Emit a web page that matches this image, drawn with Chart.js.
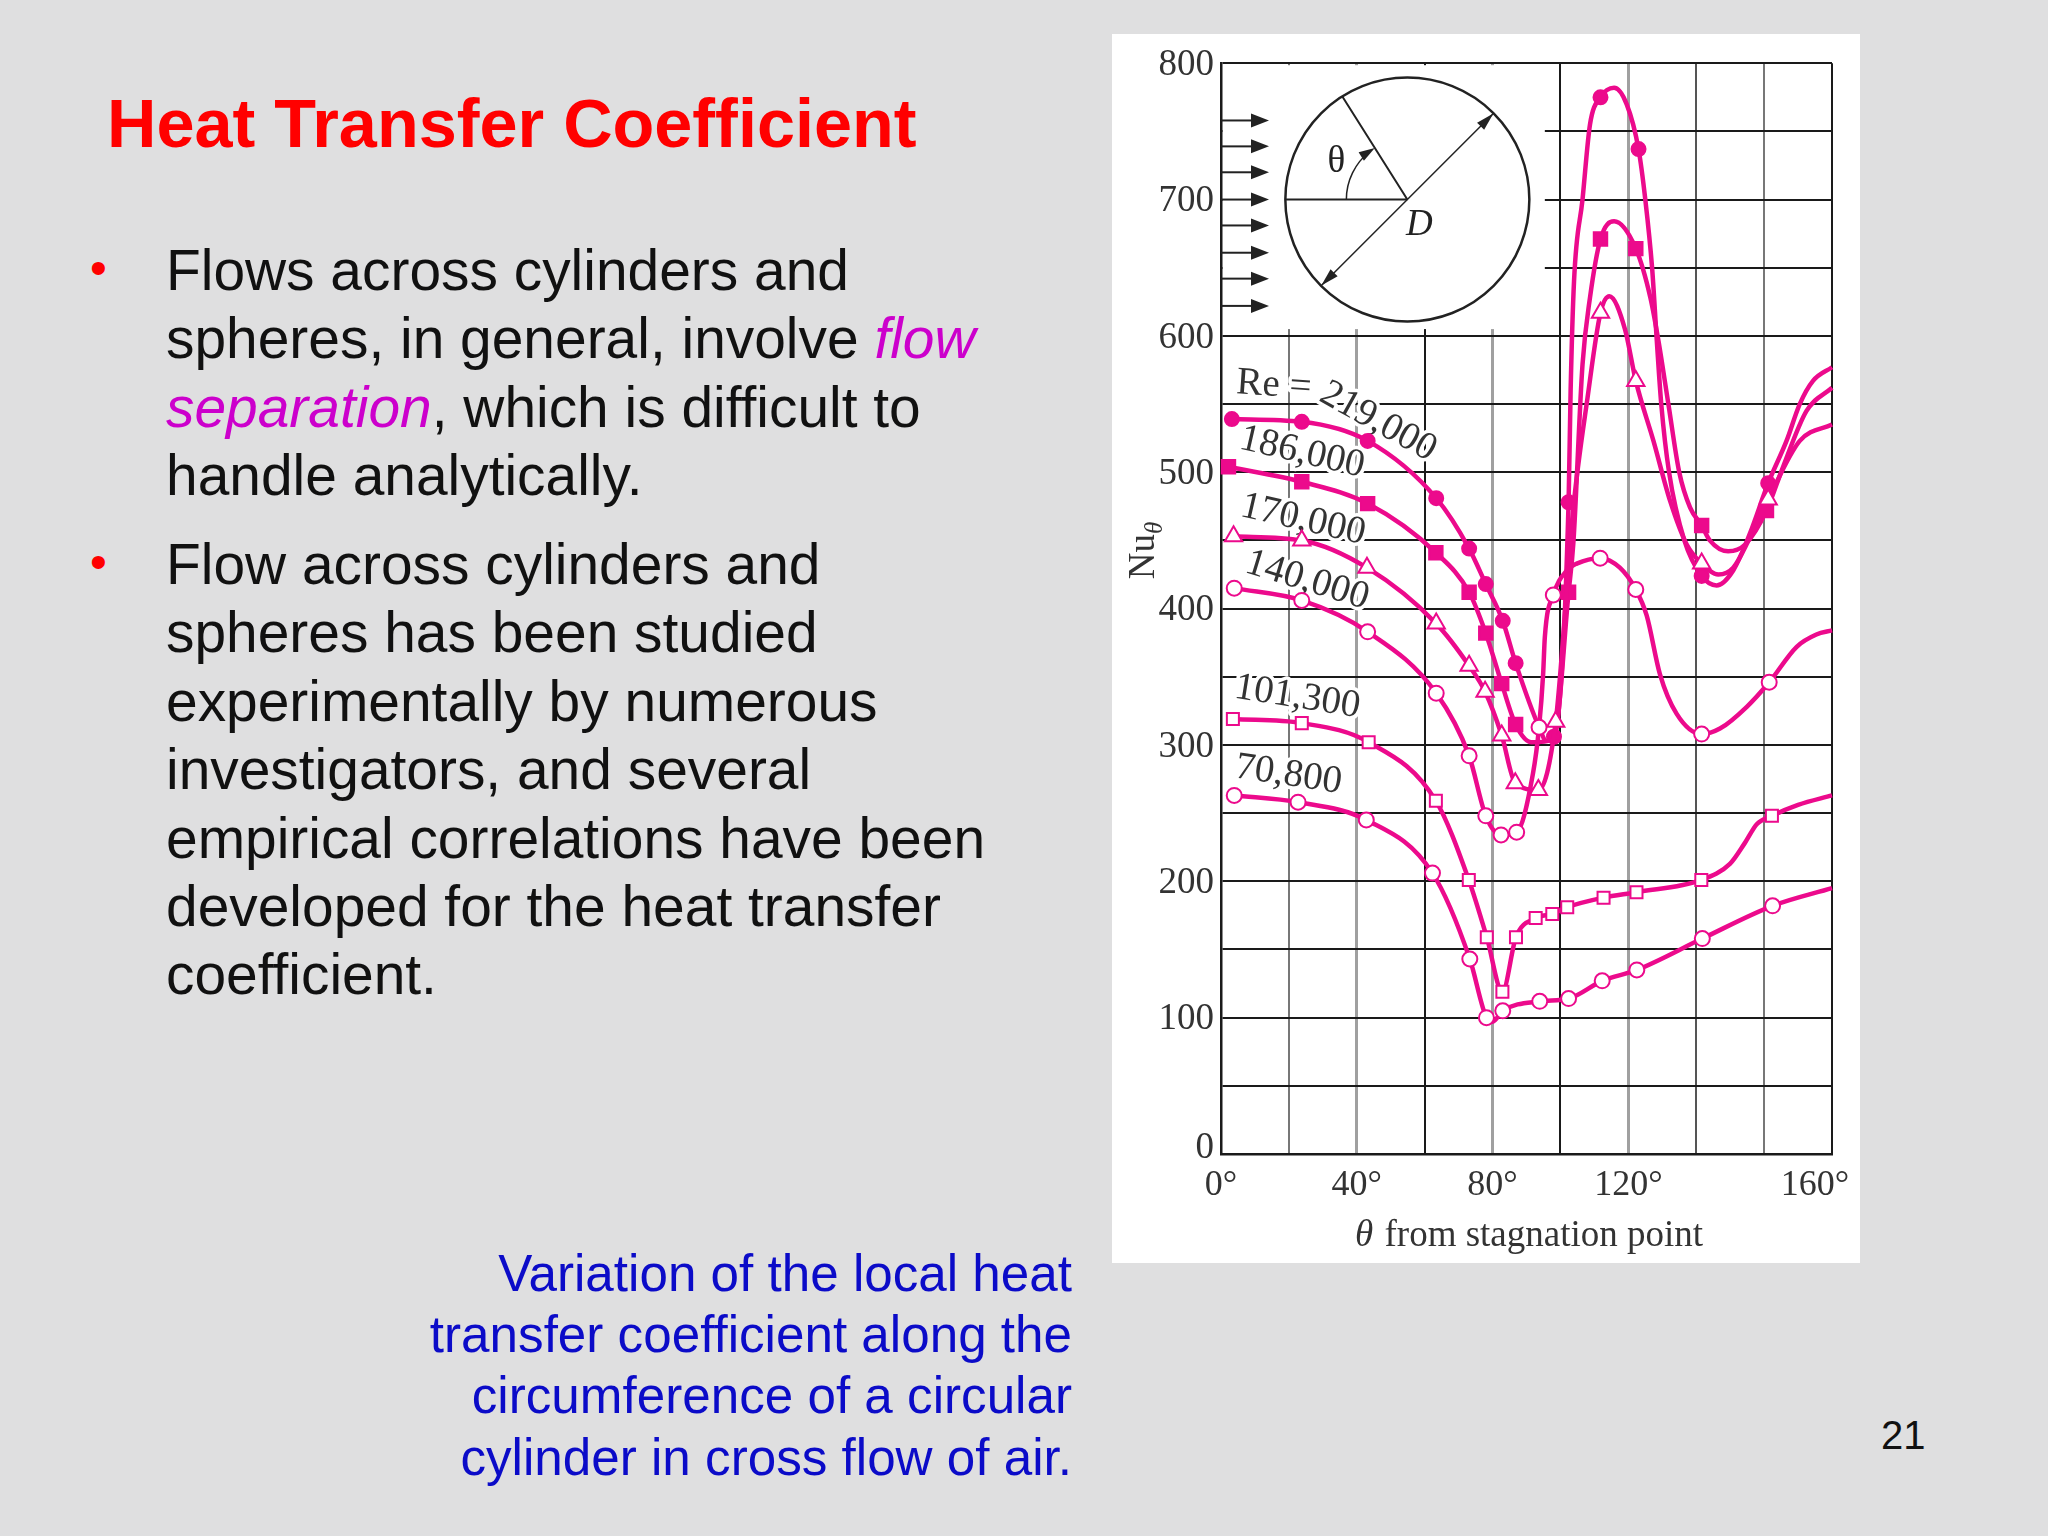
<!DOCTYPE html>
<html>
<head>
<meta charset="utf-8">
<title>Heat Transfer Coefficient</title>
<script src="https://cdn.jsdelivr.net/npm/chart.js@4"></script>
<style>
  html, body { margin: 0; padding: 0; }
  body { width: 2048px; height: 1536px; background: #dfdfe0; position: relative; overflow: hidden;
         font-family: "Liberation Sans", Arial, sans-serif; }
  .line { position: absolute; white-space: nowrap; }
  .title { left: 107px; top: 84px; font-size: 68.4px; font-weight: bold; color: #ff0000; }
  .body { left: 166px; font-size: 56.9px; color: #111; }
  .bullet { left: 90px; font-size: 48px; color: #ff0000; }
  .flow { color: #cc00cc; font-style: italic; }
  .caption { right: 976px; font-size: 51.2px; color: #0b0bc8; }
  .page { left: 1881px; top: 1413px; font-size: 40px; color: #111; }
  #panel { position: absolute; left: 1112px; top: 34px; width: 748px; height: 1229px; background: #fff; }
</style>
</head>
<body>
<div class="line title">Heat Transfer Coefficient</div>

<div class="line bullet" style="top:240px">•</div>
<div class="line body" style="top:237px">Flows across cylinders and</div>
<div class="line body" style="top:305px">spheres, in general, involve <span class="flow">flow</span></div>
<div class="line body" style="top:374px"><span class="flow">separation</span>, which is difficult to</div>
<div class="line body" style="top:442px">handle analytically.</div>
<div class="line bullet" style="top:534px">•</div>
<div class="line body" style="top:531px">Flow across cylinders and</div>
<div class="line body" style="top:599px">spheres has been studied</div>
<div class="line body" style="top:668px">experimentally by numerous</div>
<div class="line body" style="top:736px">investigators, and several</div>
<div class="line body" style="top:805px">empirical correlations have been</div>
<div class="line body" style="top:873px">developed for the heat transfer</div>
<div class="line body" style="top:941px">coefficient.</div>

<div class="line caption" style="top:1244px">Variation of the local heat</div>
<div class="line caption" style="top:1305px">transfer coefficient along the</div>
<div class="line caption" style="top:1366px">circumference of a circular</div>
<div class="line caption" style="top:1428px">cylinder in cross flow of air.</div>
<div class="line page">21</div>

<div id="panel"><canvas id="chart" width="748" height="1229"></canvas></div>

<script>
// Values: theta in degrees, Nu along the curve,
// and the angles at which the curve carries a marker
const re219Theta = [3.2, 23.8, 43.2, 63.4, 73.1, 78, 83, 86.8, 93.7, 95.9, 98.1, 102.4, 103, 104, 106.5, 108.7, 111.8, 115.8, 119.5, 123, 125, 127, 128.4, 129.7, 132, 136.5, 141.6, 146, 150.9, 155.8, 161.2, 166.6, 170.5, 174.4, 180];
const re219Nu = [539, 537, 523, 481, 444, 418, 391, 360, 313, 303, 306, 478, 560, 640, 700, 755, 775, 782, 770, 737, 700, 650, 596, 550, 500, 450, 424, 417, 428, 455, 492, 523, 550, 567, 577];
const re219Marks = [3.2, 23.8, 43.2, 63.4, 73.1, 78, 83, 86.8, 98.1, 102.4, 111.8, 123, 141.6, 161.2];

const re186Theta = [2.2, 23.8, 43.2, 63.3, 73.1, 78, 82.7, 86.8, 91.5, 98, 102.4, 103.8, 106.5, 108.7, 111.8, 115.8, 122.2, 126.5, 128.9, 131.8, 135, 138.2, 141.6, 144, 149.4, 154.4, 160.7, 165.6, 172.5, 180];
const re186Nu = [504, 493, 477, 441, 412, 382, 345, 315, 302, 304, 412, 448, 579, 628, 671, 684, 664, 628, 596, 550, 500, 474, 461, 450, 442, 447, 472, 504, 545, 562];
const re186Marks = [2.2, 23.8, 43.2, 63.3, 73.1, 78, 82.7, 86.8, 102.4, 111.8, 122.2, 141.6, 160.7];

const re170Theta = [3.7, 23.8, 43, 63.4, 73.1, 77.8, 82.7, 86.7, 93.5, 98.6, 103.8, 108, 111.8, 114.4, 119, 122.2, 127.4, 132.3, 137.2, 141.6, 146.5, 150.9, 155.8, 161.2, 170.5, 180];
const re170Nu = [453, 450, 430, 389, 358, 339, 307, 272, 267, 317, 474, 555, 617, 629, 605, 567, 523, 479, 447, 433, 425, 430, 452, 480, 523, 535];
const re170Marks = [3.7, 23.8, 43, 63.4, 73.1, 77.8, 82.7, 86.7, 93.5, 98.6, 111.8, 122.2, 141.6, 161.2];

const re140Theta = [3.9, 23.8, 43.2, 63.4, 73.1, 78, 82.5, 87.1, 91.9, 93.7, 94.9, 95.4, 97.9, 101.9, 104.8, 111.7, 117.5, 122.2, 125.4, 129.3, 134.2, 141.6, 147, 154.9, 161.5, 169.6, 175.4, 180];
const re140Nu = [415, 406, 383, 338, 292, 248, 234, 236, 279, 313, 352, 379, 410, 428, 433, 437, 430, 414, 395, 352, 323, 308, 312, 328, 346, 372, 381, 384];
const re140Marks = [3.9, 23.8, 43.2, 63.4, 73.1, 78, 82.5, 87.1, 93.7, 97.9, 111.7, 122.2, 141.6, 161.5];

const re101Theta = [3.5, 23.8, 43.5, 63.3, 73, 78.3, 82.9, 86.9, 92.7, 97.6, 102, 112.7, 122.4, 141.5, 150, 154.3, 157.9, 162.3, 170, 180];
const re101Nu = [319, 316, 302, 259, 201, 159, 119, 159, 173, 176, 181, 188, 192, 201, 213, 228, 242, 248, 256, 263];
const re101Marks = [3.5, 23.8, 43.5, 63.3, 73, 78.3, 82.9, 86.9, 92.7, 97.6, 102, 112.7, 122.4, 141.5, 162.3];

const re70Theta = [3.9, 22.7, 42.8, 62.3, 73.3, 78.2, 80, 83, 93.9, 102.4, 112.3, 122.5, 141.8, 162.5, 180];
const re70Nu = [263, 258, 245, 206, 143, 100, 97, 105, 112, 114, 127, 135, 158, 182, 195];
const re70Marks = [3.9, 22.7, 42.8, 62.3, 73.3, 78.2, 83, 93.9, 102.4, 112.3, 122.5, 141.8, 162.5];

// Tick labels. The last one really does sit past 160 in the source figure
const xTickValues = [0, 20, 40, 60, 80, 100, 120, 140, 160, 175, 180];
const xTickLabels = { 0: "0°", 40: "40°", 80: "80°", 120: "120°", 175: "160°" };
const yTickValues = [0, 6, 50, 100, 150, 200, 250, 300, 350, 400, 450, 500, 550, 600, 650, 700, 750, 800];
const yTickLabels = { 6: "0", 100: "100", 200: "200", 300: "300", 400: "400", 500: "500", 600: "600", 700: "700", 800: "800" };

const curveLabelText = ["Re =", "219,000", "186,000", "170,000", "140,000", "101,300", "70,800"];
const curveLabelTheta = [15.6, 46.3, 23.9, 24.2, 25.4, 22.5, 19.9];
const curveLabelNu = [563.5, 537, 514.4, 465, 420.6, 335, 278];
const curveLabelAngle = [4, 29, 13, 13, 17, 9, 8.5];

const flowArrowNu = [758, 739, 720, 700, 681, 661, 642, 622];

const PINK = "#ec0a8c";
const INK = "#333";
const SERIF = '"Liberation Serif", "Times New Roman", serif';

function makeCurve(thetas, nus, marks, style, filled, radius) {
  return {
    data: thetas.map((t, i) => ({ x: t, y: nus[i] })),
    borderColor: PINK,
    borderWidth: 4.5,
    cubicInterpolationMode: "monotone",
    clip: false,
    pointStyle: style,
    pointRadius: thetas.map((t) => (marks.includes(t) ? radius : 0)),
    pointBackgroundColor: filled ? PINK : "#fff",
    pointBorderColor: PINK,
    pointBorderWidth: 2,
  };
}

function xGridColor(value) {
  if (value === 175) return "rgba(0,0,0,0)";
  if (value === 60 || value === 100 || value === 0 || value === 180) return "#1a1a1a";
  if (value === 140) return "#555";
  if (value === 160 || value === 20) return "#777";
  return "#a0a0a0";
}

function arrowHead(ctx, x, y, angle, length, half) {
  ctx.save();
  ctx.translate(x, y);
  ctx.rotate(angle);
  ctx.beginPath();
  ctx.moveTo(0, 0);
  ctx.lineTo(-length, -half);
  ctx.lineTo(-length, half);
  ctx.closePath();
  ctx.fill();
  ctx.restore();
}

// Cylinder sketch in the top left corner, plus the rotated Re labels
const insetPlugin = {
  id: "inset",
  beforeDatasetsDraw(chart) {
    const ctx = chart.ctx;
    const xs = chart.scales.x;
    const ys = chart.scales.y;
    ctx.save();

    // the grid stops around the sketch
    const left = xs.getPixelForValue(0) + 2;
    const top = ys.getPixelForValue(800) + 2;
    ctx.fillStyle = "#fff";
    ctx.fillRect(left, top, xs.getPixelForValue(95.4) - left, ys.getPixelForValue(605) - top);

    const cx = xs.getPixelForValue(54.9);
    const cy = ys.getPixelForValue(700);
    const r = 122;
    ctx.strokeStyle = "#222";
    ctx.fillStyle = "#222";

    ctx.lineWidth = 2.5;
    ctx.beginPath();
    ctx.arc(cx, cy, r, 0, Math.PI * 2);
    ctx.stroke();

    ctx.lineWidth = 2;
    ctx.beginPath();
    ctx.moveTo(cx - r, cy);
    ctx.lineTo(cx, cy);
    ctx.moveTo(cx, cy);
    ctx.lineTo(cx - 65, cy - 103);
    ctx.stroke();

    // diameter with two heads
    ctx.lineWidth = 1.5;
    ctx.beginPath();
    ctx.moveTo(cx + 86, cy - 86);
    ctx.lineTo(cx - 86, cy + 86);
    ctx.stroke();
    arrowHead(ctx, cx + 86, cy - 86, -Math.PI / 4, 18, 5);
    arrowHead(ctx, cx - 86, cy + 86, (3 * Math.PI) / 4, 18, 5);

    // theta arc
    const radiusAngle = Math.atan2(-103, -65);
    ctx.beginPath();
    ctx.arc(cx, cy, 61, Math.PI, radiusAngle + Math.PI * 2 - 0.1);
    ctx.stroke();
    arrowHead(ctx, cx + 61 * Math.cos(radiusAngle), cy + 61 * Math.sin(radiusAngle), radiusAngle + Math.PI / 2, 16, 5);

    // incoming flow
    ctx.lineWidth = 2;
    flowArrowNu.forEach((nu) => {
      const y = ys.getPixelForValue(nu);
      ctx.beginPath();
      ctx.moveTo(left - 2, y);
      ctx.lineTo(left + 30, y);
      ctx.stroke();
      arrowHead(ctx, left + 46, y, 0, 18, 7);
    });

    ctx.font = "37px " + SERIF;
    ctx.textAlign = "center";
    ctx.textBaseline = "middle";
    ctx.fillText("θ", cx - 71, cy - 37);
    ctx.font = "italic 37px " + SERIF;
    ctx.fillText("D", cx + 12, cy + 26);

    curveLabelText.forEach((text, i) => {
      ctx.save();
      ctx.translate(xs.getPixelForValue(curveLabelTheta[i]), ys.getPixelForValue(curveLabelNu[i]));
      ctx.rotate((curveLabelAngle[i] * Math.PI) / 180);
      ctx.font = "39px " + SERIF;
      ctx.lineJoin = "round";
      ctx.lineWidth = 7;
      ctx.strokeStyle = "#fff";
      ctx.strokeText(text, 0, 0);
      ctx.fillStyle = INK;
      ctx.fillText(text, 0, 0);
      ctx.restore();
    });
    ctx.restore();
  },
  afterDraw(chart) {
    const ctx = chart.ctx;
    const xs = chart.scales.x;
    const ys = chart.scales.y;
    ctx.save();
    ctx.fillStyle = INK;
    ctx.textBaseline = "alphabetic";

    // x axis title, theta in italics
    ctx.textAlign = "left";
    const titleLeft = xs.getPixelForValue(39.5);
    const titleBase = ys.getPixelForValue(0) + 92;
    ctx.font = "italic 37px " + SERIF;
    ctx.fillText("θ", titleLeft, titleBase);
    const thetaWidth = ctx.measureText("θ ").width;
    ctx.font = "37px " + SERIF;
    ctx.fillText("from stagnation point", titleLeft + thetaWidth + 2, titleBase);

    // y axis title with subscript
    ctx.translate(ys.left + 42, ys.getPixelForValue(442));
    ctx.rotate(-Math.PI / 2);
    ctx.textAlign = "left";
    ctx.font = "37px " + SERIF;
    ctx.fillText("Nu", -28, 0);
    const nuWidth = ctx.measureText("Nu").width;
    ctx.font = "italic 25px " + SERIF;
    ctx.fillText("θ", -28 + nuWidth, 8);
    ctx.restore();
  },
};

new Chart(document.getElementById("chart"), {
  type: "line",
  data: {
    datasets: [
      makeCurve(re70Theta, re70Nu, re70Marks, "circle", false, 7.5),
      makeCurve(re101Theta, re101Nu, re101Marks, "rect", false, 8.5),
      makeCurve(re140Theta, re140Nu, re140Marks, "circle", false, 7.5),
      makeCurve(re170Theta, re170Nu, re170Marks, "triangle", false, 10),
      makeCurve(re186Theta, re186Nu, re186Marks, "rect", true, 9.5),
      makeCurve(re219Theta, re219Nu, re219Marks, "circle", true, 7),
    ],
  },
  options: {
    responsive: false,
    animation: false,
    layout: { padding: { top: 28, right: 28, left: 0, bottom: 0 } },
    plugins: { legend: { display: false }, tooltip: { enabled: false } },
    scales: {
      x: {
        type: "linear",
        min: 0,
        max: 180,
        afterBuildTicks(scale) {
          scale.ticks = xTickValues.map((value) => ({ value }));
        },
        afterFit(scale) {
          scale.height = 109;
        },
        grid: {
          drawTicks: false,
          color: (c) => xGridColor(c.tick ? c.tick.value : 0),
          lineWidth: (c) => (c.tick && [40, 80, 120].includes(c.tick.value) ? 3 : 2),
        },
        border: { color: "#1a1a1a", width: 2.5 },
        ticks: {
          autoSkip: false,
          maxRotation: 0,
          padding: 10,
          color: INK,
          font: { family: SERIF, size: 36 },
          callback: (value) => xTickLabels[value] || "",
        },
      },
      y: {
        type: "linear",
        min: 0,
        max: 800,
        afterBuildTicks(scale) {
          scale.ticks = yTickValues.map((value) => ({ value }));
        },
        afterFit(scale) {
          scale.width = 109;
        },
        grid: {
          drawTicks: false,
          color: (c) => (c.tick && c.tick.value === 6 ? "rgba(0,0,0,0)" : "#1a1a1a"),
          lineWidth: 2,
        },
        border: { color: "#1a1a1a", width: 2.5 },
        ticks: {
          autoSkip: false,
          padding: 7,
          labelOffset: 2,
          color: INK,
          font: { family: SERIF, size: 37 },
          callback: (value) => yTickLabels[value] || "",
        },
      },
    },
  },
  plugins: [insetPlugin],
});
</script>
</body>
</html>
